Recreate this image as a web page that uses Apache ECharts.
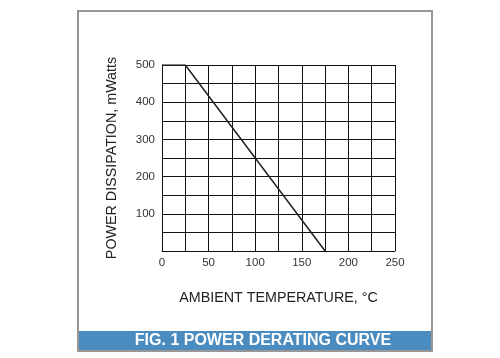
<!DOCTYPE html>
<html>
<head>
<meta charset="utf-8">
<script src="https://cdn.jsdelivr.net/npm/echarts@6/dist/echarts.min.js"></script>
<style>html,body{margin:0;padding:0;background:#fff;}#c{width:500px;height:358px;}</style>
</head>
<body>
<div id="c"></div>
<script>
var temperatures = [0, 25, 175];
var powerDissipation = [500, 500, 0];
var xTickLabels = [0, 50, 100, 150, 200, 250];
var yTickLabels = [100, 200, 300, 400, 500];

var chart = echarts.init(document.getElementById('c'), null, {renderer: 'canvas'});
var pts = temperatures.map(function (t, i) { return [t, powerDissipation[i]]; });
var font = 'Liberation Sans, Arial, sans-serif';
chart.setOption({
  animation: false,
  grid: {left: 162, right: 105, top: 65, bottom: 107, containLabel: false},
  xAxis: {
    type: 'value', min: 0, max: 250, interval: 25,
    name: 'AMBIENT TEMPERATURE, °C', nameLocation: 'middle', nameGap: 40,
    nameTextStyle: {color: '#222', fontSize: 14.3, fontFamily: font},
    axisLine: {lineStyle: {color: '#111', width: 1}},
    axisTick: {show: false},
    axisLabel: {color: '#333', fontSize: 11.5, fontFamily: font, margin: 6,
      formatter: function (v) { return xTickLabels.indexOf(v) >= 0 ? String(v) : ''; }},
    splitLine: {show: true, lineStyle: {color: '#111', width: 1}}
  },
  yAxis: {
    type: 'value', min: 0, max: 500, interval: 50,
    name: 'POWER DISSIPATION, mWatts', nameLocation: 'middle', nameGap: 43,
    nameTextStyle: {color: '#222', fontSize: 14.3, fontFamily: font},
    axisLine: {show: true, lineStyle: {color: '#111', width: 1}},
    axisTick: {show: false},
    axisLabel: {color: '#333', fontSize: 11.5, fontFamily: font, margin: 7,
      formatter: function (v) { return yTickLabels.indexOf(v) >= 0 ? String(v) : ''; }},
    splitLine: {show: true, lineStyle: {color: '#111', width: 1}}
  },
  series: [{
    type: 'line', data: pts, symbol: 'none',
    lineStyle: {color: '#222', width: 1.5}
  }],
  graphic: [
    {type: 'rect', shape: {x: 78, y: 331, width: 354, height: 20}, style: {fill: '#4a8cc0'}, z: 1},
    {type: 'text', x: 263, y: 341, style: {text: 'FIG. 1 POWER DERATING CURVE', fill: '#fff',
      font: 'bold 16px Liberation Sans, Arial, sans-serif', textAlign: 'center', textVerticalAlign: 'middle'}, z: 2},
    {type: 'rect', shape: {x: 78, y: 11, width: 354, height: 340}, style: {fill: 'none', stroke: '#9b9593', lineWidth: 2}, z: 3}
  ]
});
</script>
</body>
</html>
